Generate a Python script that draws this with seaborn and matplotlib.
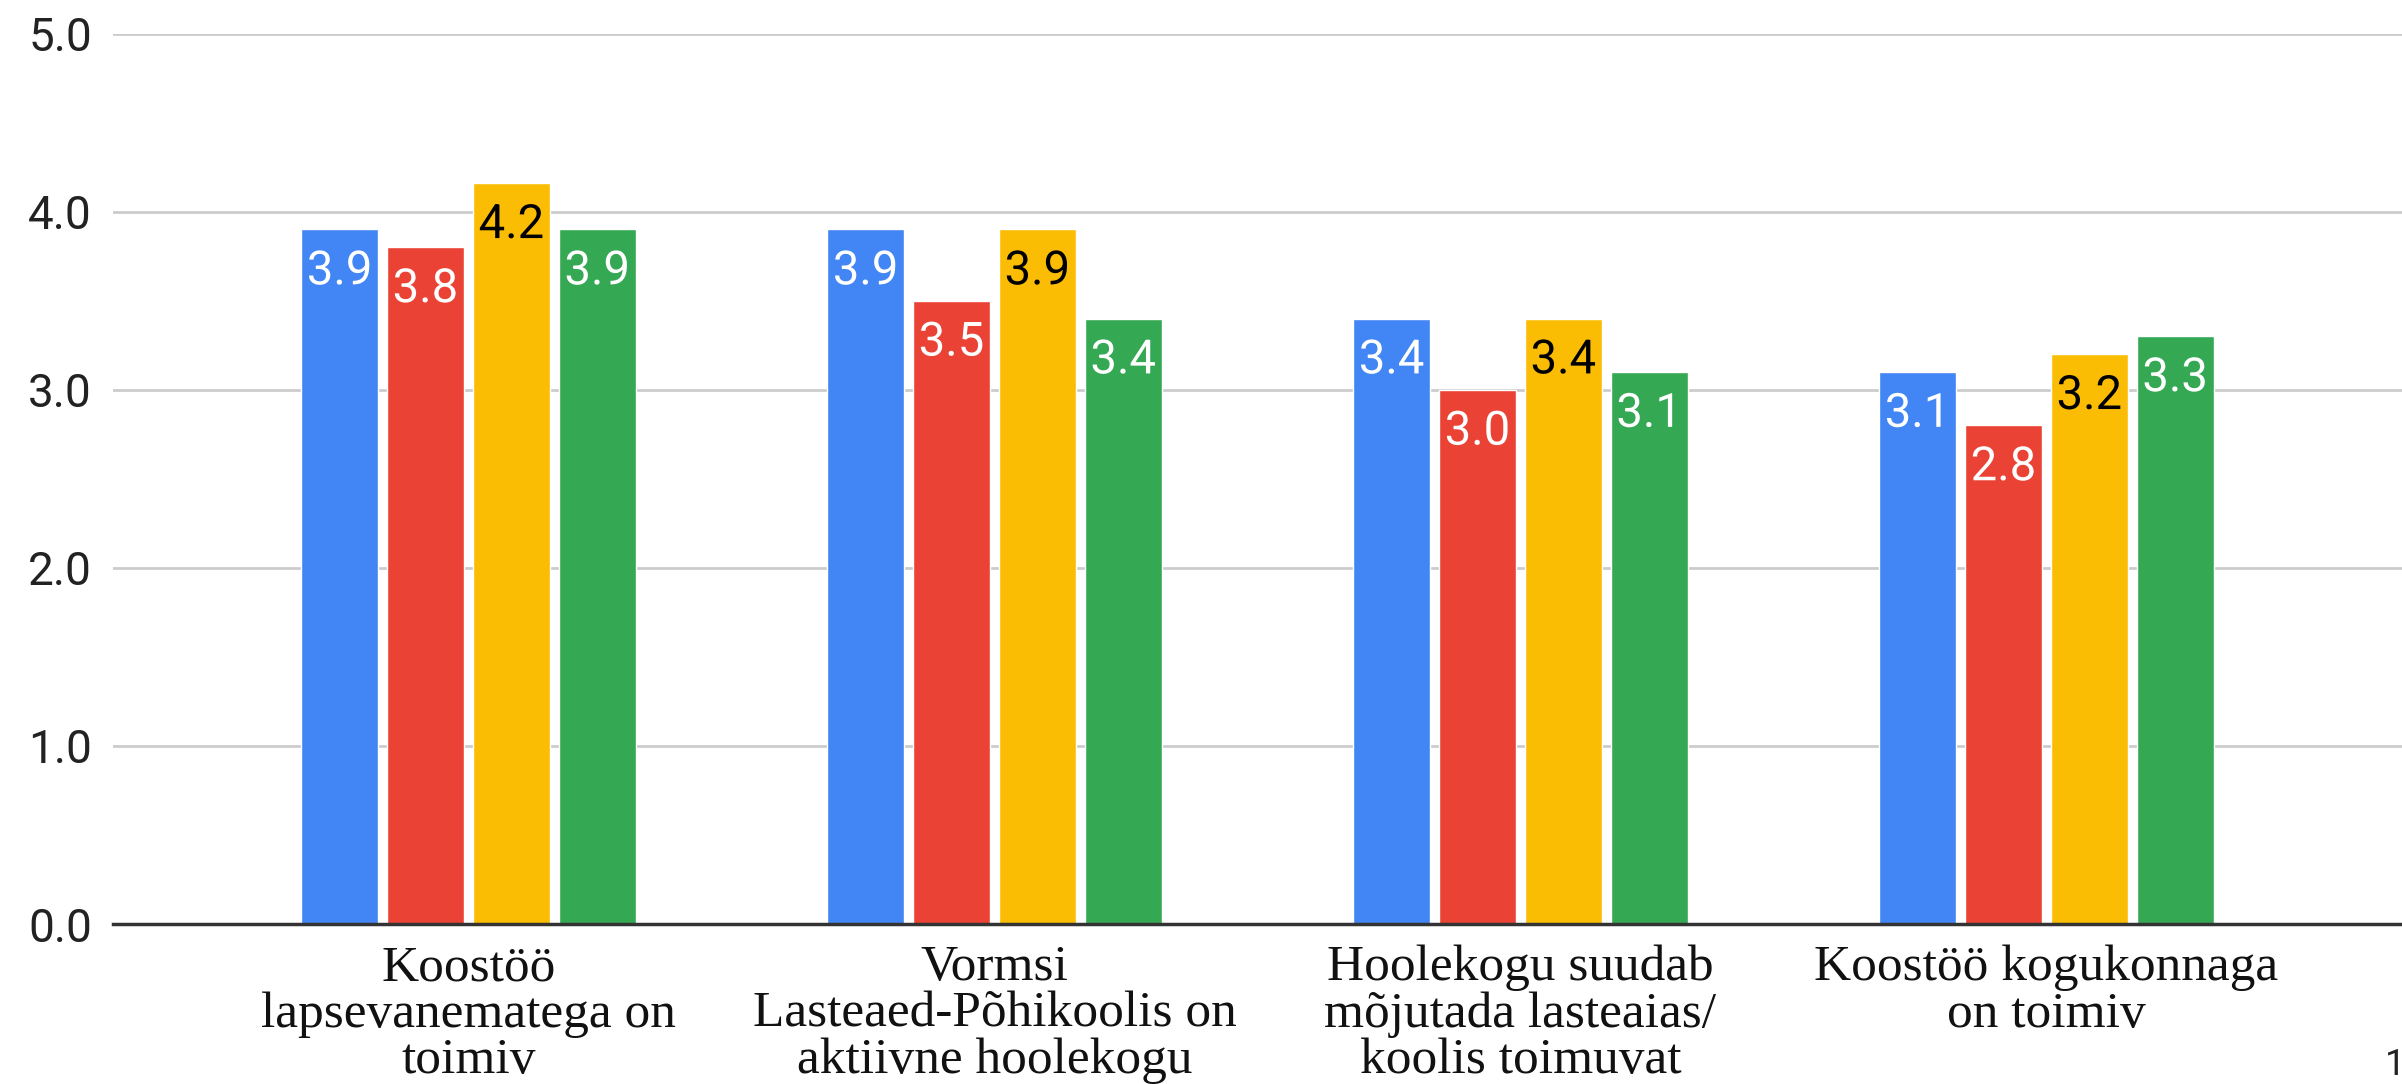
import seaborn as sns
import numpy as np
import pandas as pd
import matplotlib.pyplot as plt
import matplotlib.patheffects as pe

categories = ["Koostöö\nlapsevanematega on\ntoimiv",
              "Vormsi\nLasteaed-Põhikoolis on\naktiivne hoolekogu",
              "Hoolekogu suudab\nmõjutada lasteaias/\nkoolis toimuvat",
              "Koostöö kogukonnaga\non toimiv"]
series = ["1", "2", "3", "4"]
values_1 = [3.9, 3.9, 3.4, 3.1]
values_2 = [3.8, 3.5, 3.0, 2.8]
values_3 = [4.16, 3.9, 3.4, 3.2]
values_4 = [3.9, 3.4, 3.1, 3.3]
yticks = [0, 1, 2, 3, 4, 5]

colors = ["#4285F4", "#EA4335", "#FBBC04", "#34A853"]
label_colors = ["white", "white", "black", "white"]

df = pd.concat([
    pd.DataFrame({"kategooria": categories, "hinne": v, "seeria": s})
    for s, v in zip(series, [values_1, values_2, values_3, values_4])
]).reset_index(drop=True)

sns.set_style("white")
fig = plt.figure(figsize=(24.02, 10.84), dpi=100)
ax = fig.add_axes([0.047, 0.1476, 0.953, 0.8214])

sns.barplot(df, x="kategooria", y="hinne", hue="seeria", palette=colors,
            width=0.653, gap=0.1, saturation=1, errorbar=None,
            legend=False, ax=ax)

for cont, col, lc in zip(ax.containers, colors, label_colors):
    ax.bar_label(cont, fmt="%.1f", padding=-46, color=lc, fontsize=34,
                 family="Roboto",
                 path_effects=[pe.withStroke(linewidth=5, foreground=col)])

ax.set_ylim(0, 5)
ax.set_xlim(-0.676, 3.676)
ax.set_yticks(yticks)
ax.set_yticklabels([f"{t:.1f}" for t in yticks], fontsize=33,
                   family="Roboto", color="#222222")
ax.tick_params(axis="y", length=0, pad=15)
ax.tick_params(axis="x", length=0, pad=15)
for lab in ax.get_xticklabels():
    lab.set_family("Liberation Serif")
    lab.set_fontsize(37)
    lab.set_linespacing(1.0)
    lab.set_color("#111111")

ax.yaxis.grid(True, color="#cccccc", linewidth=2)
ax.set_axisbelow(True)
for s in ["top", "right", "left"]:
    ax.spines[s].set_visible(False)
ax.spines["bottom"].set_color("#333333")
ax.spines["bottom"].set_linewidth(2.5)
ax.set_xlabel("")
ax.set_ylabel("")

fig.text(0.993, 0.008, "1", fontsize=26, family="Roboto", color="#222222")

fig.savefig("out.png", dpi=100)
